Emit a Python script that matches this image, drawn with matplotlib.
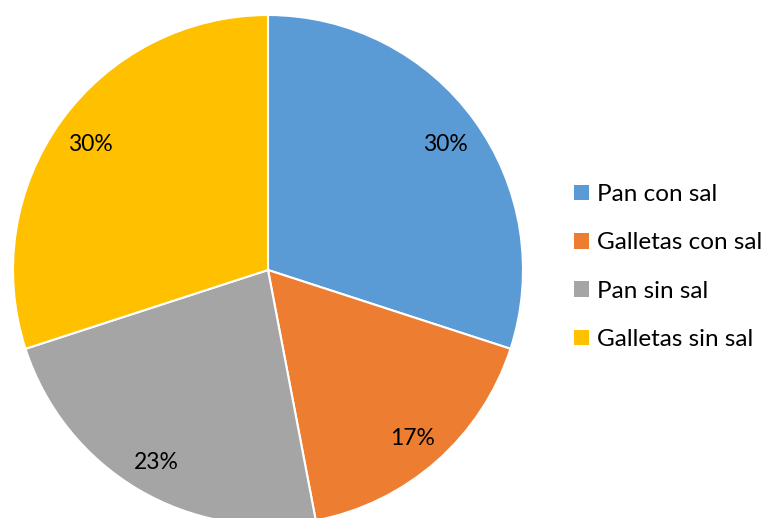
import matplotlib.pyplot as plt
from matplotlib.patches import Patch

labels = ['Pan con sal', 'Galletas con sal', 'Pan sin sal', 'Galletas sin sal']
values = [30, 17, 23, 30]
colors = ['#5B9BD5', '#ED7D31', '#A5A5A5', '#FFC000']

plt.rcParams['font.family'] = ['Lato', 'DejaVu Sans']

W, H = 764, 518
cx, cy, R = 268, 270, 255

fig = plt.figure(figsize=(W / 100, H / 100), dpi=100)
ax = fig.add_axes([0, 0, 1, 1])

wedges, texts, autotexts = ax.pie(
    values, colors=colors, startangle=90, counterclock=False,
    radius=1, autopct='%1.0f%%', pctdistance=0.86,
    wedgeprops=dict(edgecolor='white', linewidth=1.5),
    textprops=dict(fontsize=16.5, color='black'))
for t in autotexts:
    x, y = t.get_position()
    t.set_position((x, y - 0.015))

# pie() resets the limits, so place the circle afterwards
ax.set_aspect('auto')
ax.set_xlim(-cx / R, (W - cx) / R)
ax.set_ylim(-(H - cy) / R, cy / R)
ax.axis('off')

handles = [Patch(facecolor=c, label=l) for c, l in zip(colors, labels)]
ax.legend(handles=handles, loc='center left',
          bbox_to_anchor=(574 / W, 1 - 267 / H), frameon=False,
          fontsize=17.5, handlelength=0.6, handleheight=0.6,
          handletextpad=0.35, labelspacing=1.12, borderpad=0,
          borderaxespad=0)

fig.savefig('out.png', dpi=100)
